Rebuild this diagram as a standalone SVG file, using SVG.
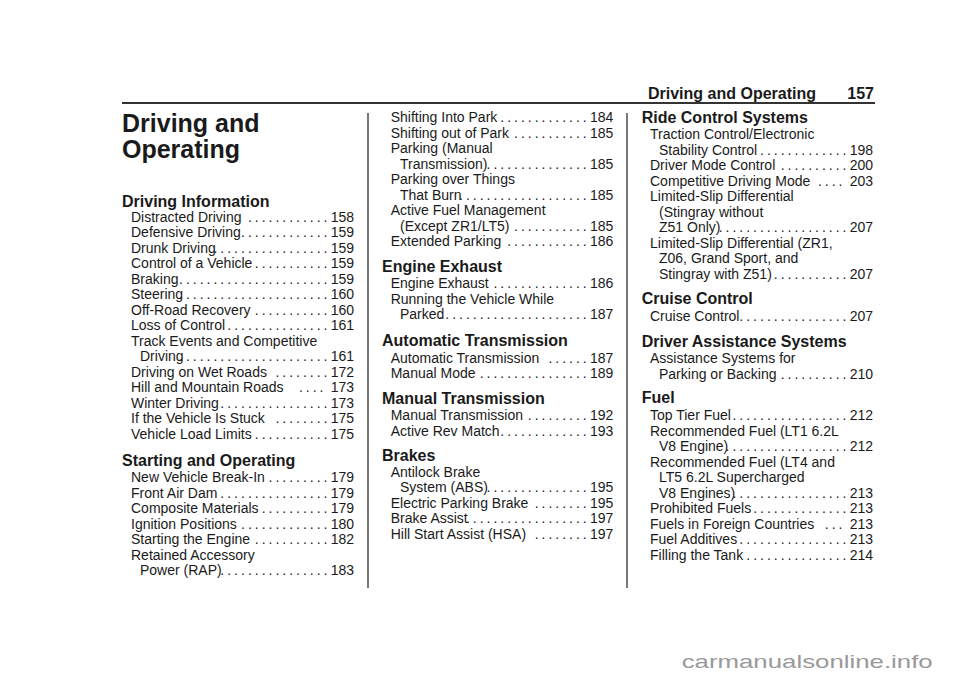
<svg xmlns="http://www.w3.org/2000/svg" width="960" height="678" viewBox="0 0 960 678">
<style>
text{font-family:"Liberation Sans",Arial,sans-serif;fill:#1a1a1a}
.e{font-size:14px}
.d{font-size:14px;letter-spacing:-0.45px;text-anchor:end;white-space:pre}
.n{font-size:14px;text-anchor:end}
.h{font-size:16px;font-weight:bold}
.t{font-size:25px;font-weight:bold}
.r{stroke:#555;stroke-width:1.6}
</style>
<rect width="960" height="678" fill="#fff"/>
<g id="header">
<text class="h" x="816" y="99" text-anchor="end">Driving and Operating</text>
<text class="h" x="874" y="99" text-anchor="end">157</text>
<line x1="122" y1="103" x2="875" y2="103" stroke="#333" stroke-width="2"/>
<line class="r" x1="368" y1="113" x2="368" y2="588"/>
<line class="r" x1="627" y1="113" x2="627" y2="588"/>
</g>
<g id="col1">
<text class="t" x="122" y="131.7">Driving and</text>
<text class="t" x="122" y="158">Operating</text>
<text class="h" x="122" y="207">Driving Information</text>
<text class="e" x="131" y="221.7">Distracted Driving</text><text class="d" x="327" y="221.7">. . . . . . . . . . . .</text><text class="n" x="354" y="221.7">158</text>
<text class="e" x="131" y="237.2">Defensive Driving</text><text class="d" x="327" y="237.2">. . . . . . . . . . . . .</text><text class="n" x="354" y="237.2">159</text>
<text class="e" x="131" y="252.7">Drunk Driving</text><text class="d" x="327" y="252.7">. . . . . . . . . . . . . . . . .</text><text class="n" x="354" y="252.7">159</text>
<text class="e" x="131" y="268.2">Control of a Vehicle</text><text class="d" x="327" y="268.2">. . . . . . . . . . .</text><text class="n" x="354" y="268.2">159</text>
<text class="e" x="131" y="283.7">Braking</text><text class="d" x="327" y="283.7">. . . . . . . . . . . . . . . . . . . . . . .</text><text class="n" x="354" y="283.7">159</text>
<text class="e" x="131" y="299.2">Steering</text><text class="d" x="327" y="299.2">. . . . . . . . . . . . . . . . . . . . . .</text><text class="n" x="354" y="299.2">160</text>
<text class="e" x="131" y="314.7">Off-Road Recovery</text><text class="d" x="327" y="314.7">. . . . . . . . . . .</text><text class="n" x="354" y="314.7">160</text>
<text class="e" x="131" y="330.2">Loss of Control</text><text class="d" x="327" y="330.2">. . . . . . . . . . . . . . .</text><text class="n" x="354" y="330.2">161</text>
<text class="e" x="131" y="345.7">Track Events and Competitive</text>
<text class="e" x="140" y="361.2">Driving</text><text class="d" x="327" y="361.2">. . . . . . . . . . . . . . . . . . . . . .</text><text class="n" x="354" y="361.2">161</text>
<text class="e" x="131" y="376.7">Driving on Wet Roads</text><text class="d" x="327" y="376.7">. . . . . . . .</text><text class="n" x="354" y="376.7">172</text>
<text class="e" x="131" y="392.2">Hill and Mountain Roads</text><text class="d" x="323" y="392.2">. . . .</text><text class="n" x="354" y="392.2">173</text>
<text class="e" x="131" y="407.7">Winter Driving</text><text class="d" x="327" y="407.7">. . . . . . . . . . . . . . . .</text><text class="n" x="354" y="407.7">173</text>
<text class="e" x="131" y="423.2">If the Vehicle Is Stuck</text><text class="d" x="327" y="423.2">. . . . . . . .</text><text class="n" x="354" y="423.2">175</text>
<text class="e" x="131" y="438.7">Vehicle Load Limits</text><text class="d" x="327" y="438.7">. . . . . . . . . . .</text><text class="n" x="354" y="438.7">175</text>
<text class="h" x="122" y="466">Starting and Operating</text>
<text class="e" x="131" y="482">New Vehicle Break-In</text><text class="d" x="327" y="482">. . . . . . . . .</text><text class="n" x="354" y="482">179</text>
<text class="e" x="131" y="497.5">Front Air Dam</text><text class="d" x="327" y="497.5">. . . . . . . . . . . . . . . .</text><text class="n" x="354" y="497.5">179</text>
<text class="e" x="131" y="513">Composite Materials</text><text class="d" x="327" y="513">. . . . . . . . . .</text><text class="n" x="354" y="513">179</text>
<text class="e" x="131" y="528.5">Ignition Positions</text><text class="d" x="327" y="528.5">. . . . . . . . . . . . .</text><text class="n" x="354" y="528.5">180</text>
<text class="e" x="131" y="544">Starting the Engine</text><text class="d" x="327" y="544">. . . . . . . . . . .</text><text class="n" x="354" y="544">182</text>
<text class="e" x="131" y="559.5">Retained Accessory</text>
<text class="e" x="140" y="575">Power (RAP)</text><text class="d" x="327" y="575">. . . . . . . . . . . . . . . .</text><text class="n" x="354" y="575">183</text>
</g>
<g id="col2">
<text class="e" x="390.7" y="122.3">Shifting Into Park</text><text class="d" x="586.3" y="122.3">. . . . . . . . . . . . .</text><text class="n" x="613.3" y="122.3">184</text>
<text class="e" x="390.7" y="137.8">Shifting out of Park</text><text class="d" x="586.3" y="137.8">. . . . . . . . . . .</text><text class="n" x="613.3" y="137.8">185</text>
<text class="e" x="390.7" y="153.3">Parking (Manual</text>
<text class="e" x="400" y="168.8">Transmission)</text><text class="d" x="586.3" y="168.8">. . . . . . . . . . . . . . .</text><text class="n" x="613.3" y="168.8">185</text>
<text class="e" x="390.7" y="184.3">Parking over Things</text>
<text class="e" x="400" y="199.8">That Burn</text><text class="d" x="586.3" y="199.8">. . . . . . . . . . . . . . . . . . .</text><text class="n" x="613.3" y="199.8">185</text>
<text class="e" x="390.7" y="215.3">Active Fuel Management</text>
<text class="e" x="400" y="230.8">(Except ZR1/LT5)</text><text class="d" x="586.3" y="230.8">. . . . . . . . . . .</text><text class="n" x="613.3" y="230.8">185</text>
<text class="e" x="390.7" y="246.3">Extended Parking</text><text class="d" x="586.3" y="246.3">. . . . . . . . . . . .</text><text class="n" x="613.3" y="246.3">186</text>
<text class="h" x="382" y="272.3">Engine Exhaust</text>
<text class="e" x="390.7" y="288">Engine Exhaust</text><text class="d" x="586.3" y="288">. . . . . . . . . . . . . .</text><text class="n" x="613.3" y="288">186</text>
<text class="e" x="390.7" y="303.5">Running the Vehicle While</text>
<text class="e" x="400" y="319">Parked</text><text class="d" x="586.3" y="319">. . . . . . . . . . . . . . . . . . . . . .</text><text class="n" x="613.3" y="319">187</text>
<text class="h" x="382" y="346.3">Automatic Transmission</text>
<text class="e" x="390.7" y="362.7">Automatic Transmission</text><text class="d" x="586.3" y="362.7">. . . . . .</text><text class="n" x="613.3" y="362.7">187</text>
<text class="e" x="390.7" y="378.2">Manual Mode</text><text class="d" x="586.3" y="378.2">. . . . . . . . . . . . . . . .</text><text class="n" x="613.3" y="378.2">189</text>
<text class="h" x="382" y="404">Manual Transmission</text>
<text class="e" x="390.7" y="420">Manual Transmission</text><text class="d" x="586.3" y="420">. . . . . . . . .</text><text class="n" x="613.3" y="420">192</text>
<text class="e" x="390.7" y="435.5">Active Rev Match</text><text class="d" x="586.3" y="435.5">. . . . . . . . . . . . .</text><text class="n" x="613.3" y="435.5">193</text>
<text class="h" x="382" y="460.7">Brakes</text>
<text class="e" x="390.7" y="476.5">Antilock Brake</text>
<text class="e" x="400" y="492">System (ABS)</text><text class="d" x="586.3" y="492">. . . . . . . . . . . . . . .</text><text class="n" x="613.3" y="492">195</text>
<text class="e" x="390.7" y="507.5">Electric Parking Brake</text><text class="d" x="586.3" y="507.5">. . . . . . . .</text><text class="n" x="613.3" y="507.5">195</text>
<text class="e" x="390.7" y="523">Brake Assist</text><text class="d" x="586.3" y="523">. . . . . . . . . . . . . . . . . .</text><text class="n" x="613.3" y="523">197</text>
<text class="e" x="390.7" y="538.5">Hill Start Assist (HSA)</text><text class="d" x="586.3" y="538.5">. . . . . . . .</text><text class="n" x="613.3" y="538.5">197</text>
</g>
<g id="col3">
<text class="h" x="641.7" y="123.3">Ride Control Systems</text>
<text class="e" x="650" y="139">Traction Control/Electronic</text>
<text class="e" x="659" y="154.5">Stability Control</text><text class="d" x="846" y="154.5">. . . . . . . . . . . . .</text><text class="n" x="873" y="154.5">198</text>
<text class="e" x="650" y="170">Driver Mode Control</text><text class="d" x="846" y="170">. . . . . . . . . .</text><text class="n" x="873" y="170">200</text>
<text class="e" x="650" y="185.5">Competitive Driving Mode</text><text class="d" x="842" y="185.5">. . . .</text><text class="n" x="873" y="185.5">203</text>
<text class="e" x="650" y="201">Limited-Slip Differential</text>
<text class="e" x="659" y="216.5">(Stingray without</text>
<text class="e" x="659" y="232">Z51 Only)</text><text class="d" x="846" y="232">. . . . . . . . . . . . . . . . . . .</text><text class="n" x="873" y="232">207</text>
<text class="e" x="650" y="247.5">Limited-Slip Differential (ZR1,</text>
<text class="e" x="659" y="263">Z06, Grand Sport, and</text>
<text class="e" x="659" y="278.5">Stingray with Z51)</text><text class="d" x="846" y="278.5">. . . . . . . . . . .</text><text class="n" x="873" y="278.5">207</text>
<text class="h" x="641.7" y="304.3">Cruise Control</text>
<text class="e" x="650" y="320.5">Cruise Control</text><text class="d" x="846" y="320.5">. . . . . . . . . . . . . . . .</text><text class="n" x="873" y="320.5">207</text>
<text class="h" x="641.7" y="347">Driver Assistance Systems</text>
<text class="e" x="650" y="363">Assistance Systems for</text>
<text class="e" x="659" y="378.5">Parking or Backing</text><text class="d" x="846" y="378.5">. . . . . . . . . .</text><text class="n" x="873" y="378.5">210</text>
<text class="h" x="641.7" y="403.3">Fuel</text>
<text class="e" x="650" y="420">Top Tier Fuel</text><text class="d" x="846" y="420">. . . . . . . . . . . . . . . . .</text><text class="n" x="873" y="420">212</text>
<text class="e" x="650" y="435.5">Recommended Fuel (LT1 6.2L</text>
<text class="e" x="659" y="451">V8 Engine)</text><text class="d" x="846" y="451">. . . . . . . . . . . . . . . . . .</text><text class="n" x="873" y="451">212</text>
<text class="e" x="650" y="466.5">Recommended Fuel (LT4 and</text>
<text class="e" x="659" y="482">LT5 6.2L Supercharged</text>
<text class="e" x="659" y="497.5">V8 Engines)</text><text class="d" x="846" y="497.5">. . . . . . . . . . . . . . . . .</text><text class="n" x="873" y="497.5">213</text>
<text class="e" x="650" y="513">Prohibited Fuels</text><text class="d" x="846" y="513">. . . . . . . . . . . . . .</text><text class="n" x="873" y="513">213</text>
<text class="e" x="650" y="528.5">Fuels in Foreign Countries</text><text class="d" x="842" y="528.5">. . .</text><text class="n" x="873" y="528.5">213</text>
<text class="e" x="650" y="544">Fuel Additives</text><text class="d" x="846" y="544">. . . . . . . . . . . . . . . .</text><text class="n" x="873" y="544">213</text>
<text class="e" x="650" y="559.5">Filling the Tank</text><text class="d" x="846" y="559.5">. . . . . . . . . . . . . . .</text><text class="n" x="873" y="559.5">214</text>
</g>
<g id="watermark">
<text x="681.7" y="668" font-size="19" textLength="251" lengthAdjust="spacingAndGlyphs" style="fill:#999">carmanualsonline.info</text>
</g>
</svg>
